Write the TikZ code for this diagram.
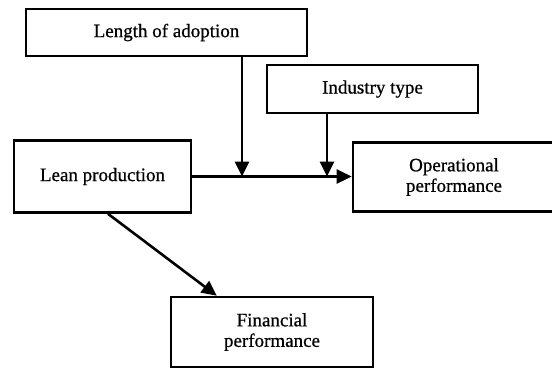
\documentclass[tikz,border=0pt]{standalone}
\usepackage{fontspec}
\setmainfont{Liberation Serif}
\newfontfamily\boxfont[FakeBold=0.7]{Liberation Serif}
\usetikzlibrary{arrows.meta,calc}
\begin{document}
\begin{tikzpicture}[x=1pt,y=-1pt,
  box/.style={draw=black,line width=2.6pt,rectangle,inner sep=0pt,align=center,
    font=\boxfont\fontsize{19}{20.5}\selectfont},
  conn/.style={line width=2.6pt,-{Triangle[length=15pt,width=14pt]}}]
\useasboundingbox (0,0) rectangle (552,368);
\fill[white] (0,0) rectangle (552,368);
\node[box,minimum width=281pt,minimum height=47pt] (len) at (166.5,32.5) {Length of adoption};
\node[box,minimum width=211pt,minimum height=48pt] (ind) at (372.5,89) {Industry type};
\node[box,minimum width=177pt,minimum height=72pt] (lean) at (102.5,176.5) {Lean production};
\node[box,minimum width=202pt,minimum height=69pt] (op) at (454,177) {Operational\\performance};
\node[box,minimum width=202pt,minimum height=70pt] (fin) at (272,332) {Financial\\performance};
\coordinate (j1) at (242,176.5);
\coordinate (j2) at (327,176.5);
\draw[conn] (lean.east) -- (lean.east -| op.west);
\draw[conn] (len.south -| j1) -- (j1);
\draw[conn] (ind.south -| j2) -- (j2);
\draw[conn] ($(lean.south)+(5.5,0)$) -- ($(fin.north west)+(47,0)$);
\end{tikzpicture}
\end{document}
